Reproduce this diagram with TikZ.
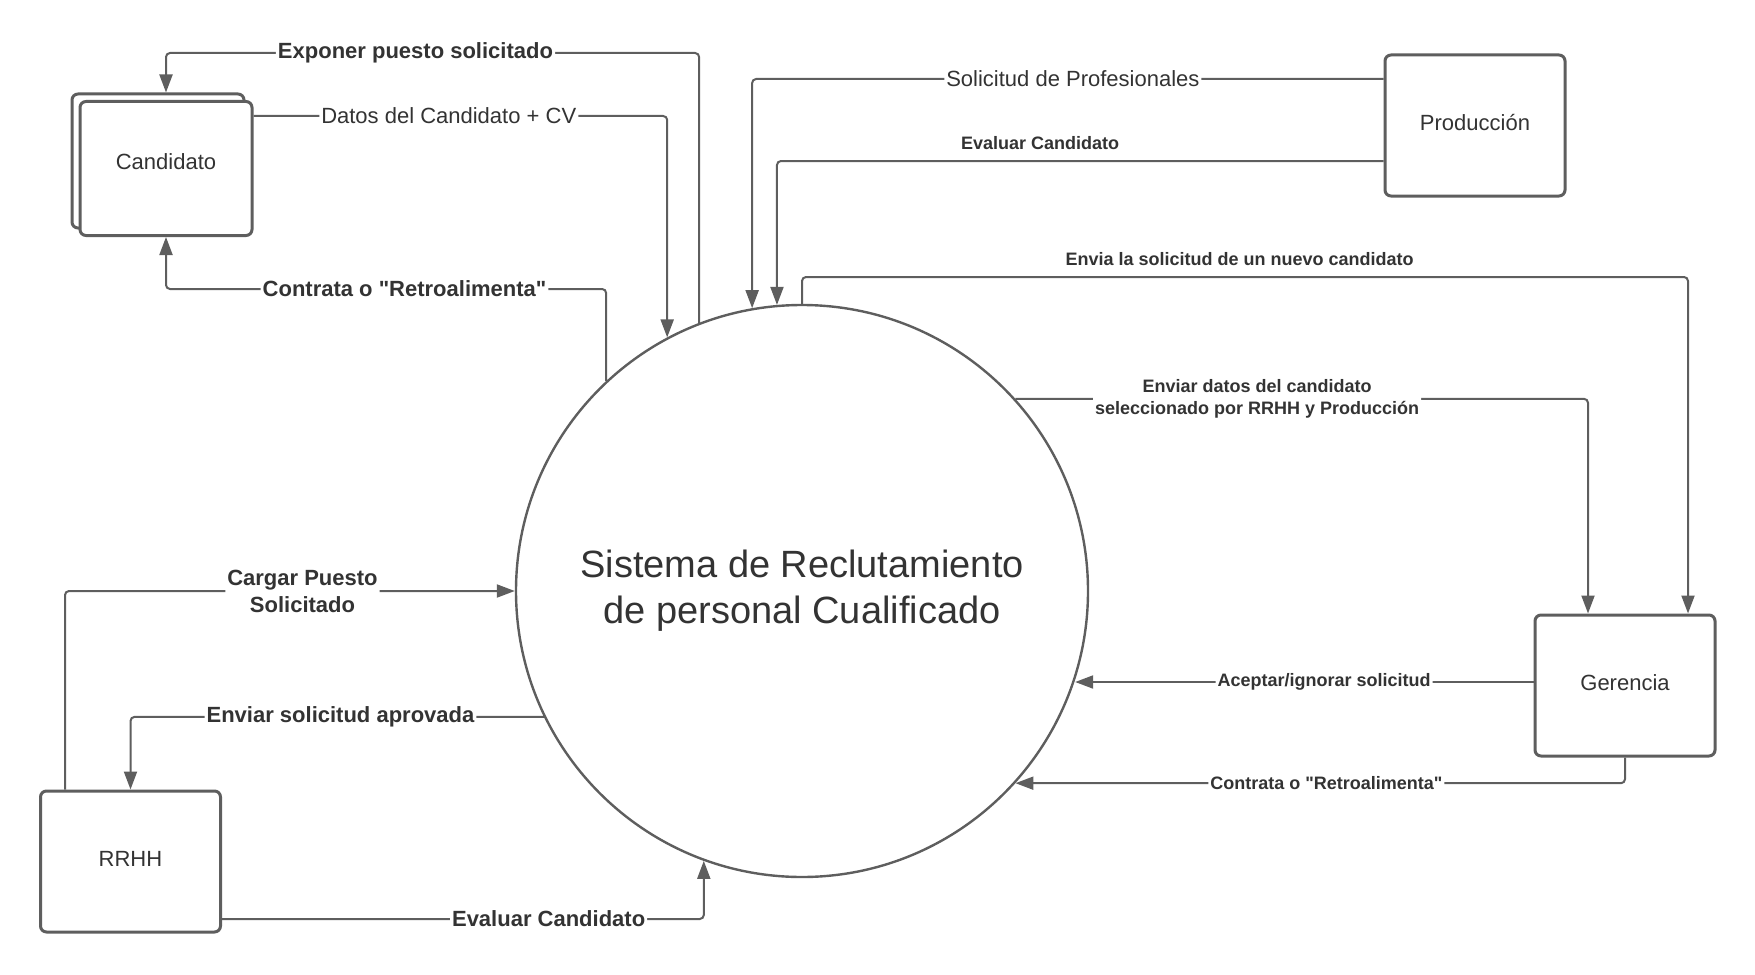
\documentclass[tikz,border=0pt]{standalone}
\usepackage{fontspec}
\setmainfont{Liberation Sans}[Ligatures=TeXOff]
\usetikzlibrary{arrows.meta}
\definecolor{lucgray}{HTML}{5E5E5E}
\definecolor{lucink}{HTML}{333333}

\begin{document}
\begin{tikzpicture}[x=0.5pt, y=-0.5pt, lucgray, text=lucink,
	ent/.style = {rectangle, rounded corners=3pt, draw=lucgray, line width=1.5pt, fill=white, minimum width=90pt, minimum height=70.5pt, text height=8pt, text depth=3pt, font=\fontsize{11}{13}\selectfont},
	proc/.style = {circle, draw=lucgray, line width=1.2pt, minimum size=286pt, inner sep=0pt, align=center, font=\fontsize{19}{23}\selectfont},
	flow/.style = {-{Triangle[length=9pt, width=6.5pt]}, line width=1pt, rounded corners=2pt},
	bigtag/.style = {fill=white, inner sep=1pt, align=center, font=\fontsize{11}{13.5}\selectfont\bfseries},
	smalltag/.style = {fill=white, inner sep=1pt, align=center, font=\fontsize{9}{10.7}\selectfont\bfseries},
	thintag/.style = {fill=white, inner sep=1pt, font=\fontsize{11}{13}\selectfont}]
			\useasboundingbox (0,0) rectangle (1755,974);
			\node[proc] (sis) at (802,591) {Sistema de Reclutamiento\\ de personal Cualificado};
			\node[ent, minimum width=86pt, minimum height=67pt] (candb) at (158,161) {};
			\node[ent, minimum width=86pt, minimum height=67pt, text depth=7pt] (cand) at (166,168.5) {Candidato};
			\node[ent] (prod) at (1475,125.5) {Producción};
			\node[ent] (ger) at (1625,685.5) {Gerencia};
			\node[ent] (rrhh) at (130.5,861.5) {RRHH};
			\coordinate (g1) at ([xshift=-18.5pt]ger.north);
			\coordinate (g2) at ([xshift=31.5pt]ger.north);
			\coordinate (ga) at ([yshift=1.75pt]ger.west);
			% candidato
			\draw[flow] (sis.111.5) |- (cand.south |- 0,53) node[bigtag, pos=.766] {Exponer puesto solicitado} -- (cand.south |- candb.north);
			\draw[flow] (cand.east |- 0,116) -| (sis.118.7) node[thintag, pos=.236] {Datos del Candidato + CV};
			\draw[flow] (sis.133.6) |- (cand.south |- 0,289) node[bigtag, pos=.729] {Contrata o "Retroalimenta"} -- (cand.south);
			% produccion
			\draw[flow] (prod.west |- 0,79) -| (sis.100.8) node[thintag, pos=.246] {Solicitud de Profesionales};
			\draw[flow] (prod.west |- 0,161) -| (sis.95.2) node[smalltag, above=4pt, pos=.283] {Evaluar Candidato};
			% gerencia
			\draw[flow] (sis.north) |- (g2 |- 0,277) node[smalltag, above=4pt, pos=.747] {Envia la solicitud de un nuevo candidato} -- (g2);
			\draw[flow] (sis.42.8) -| (g1) node[smalltag, pos=.211] {Enviar datos del candidato\\ seleccionado por RRHH y Producción};
			\draw[flow] (ga) -- (sis.-18.5 |- ga) node[smalltag, pos=.457] {Aceptar/ignorar solicitud};
			\draw[flow] (ger.south) |- (sis.-42.6) node[smalltag, pos=.745] {Contrata o "Retroalimenta"};
			% rrhh
			\draw[flow] ([xshift=-32.75pt]rrhh.north) |- (sis.west) node[bigtag, pos=.764] {Cargar Puesto\\ Solicitado};
			\draw[flow] (sis.206.5) -| (rrhh.north) node[bigtag, pos=.246] {Enviar solicitud aprovada};
			\draw[flow] ([yshift=-28.75pt]rrhh.east) -| (sis.250.03) node[bigtag, pos=.339] {Evaluar Candidato};
		\end{tikzpicture}
\end{document}
